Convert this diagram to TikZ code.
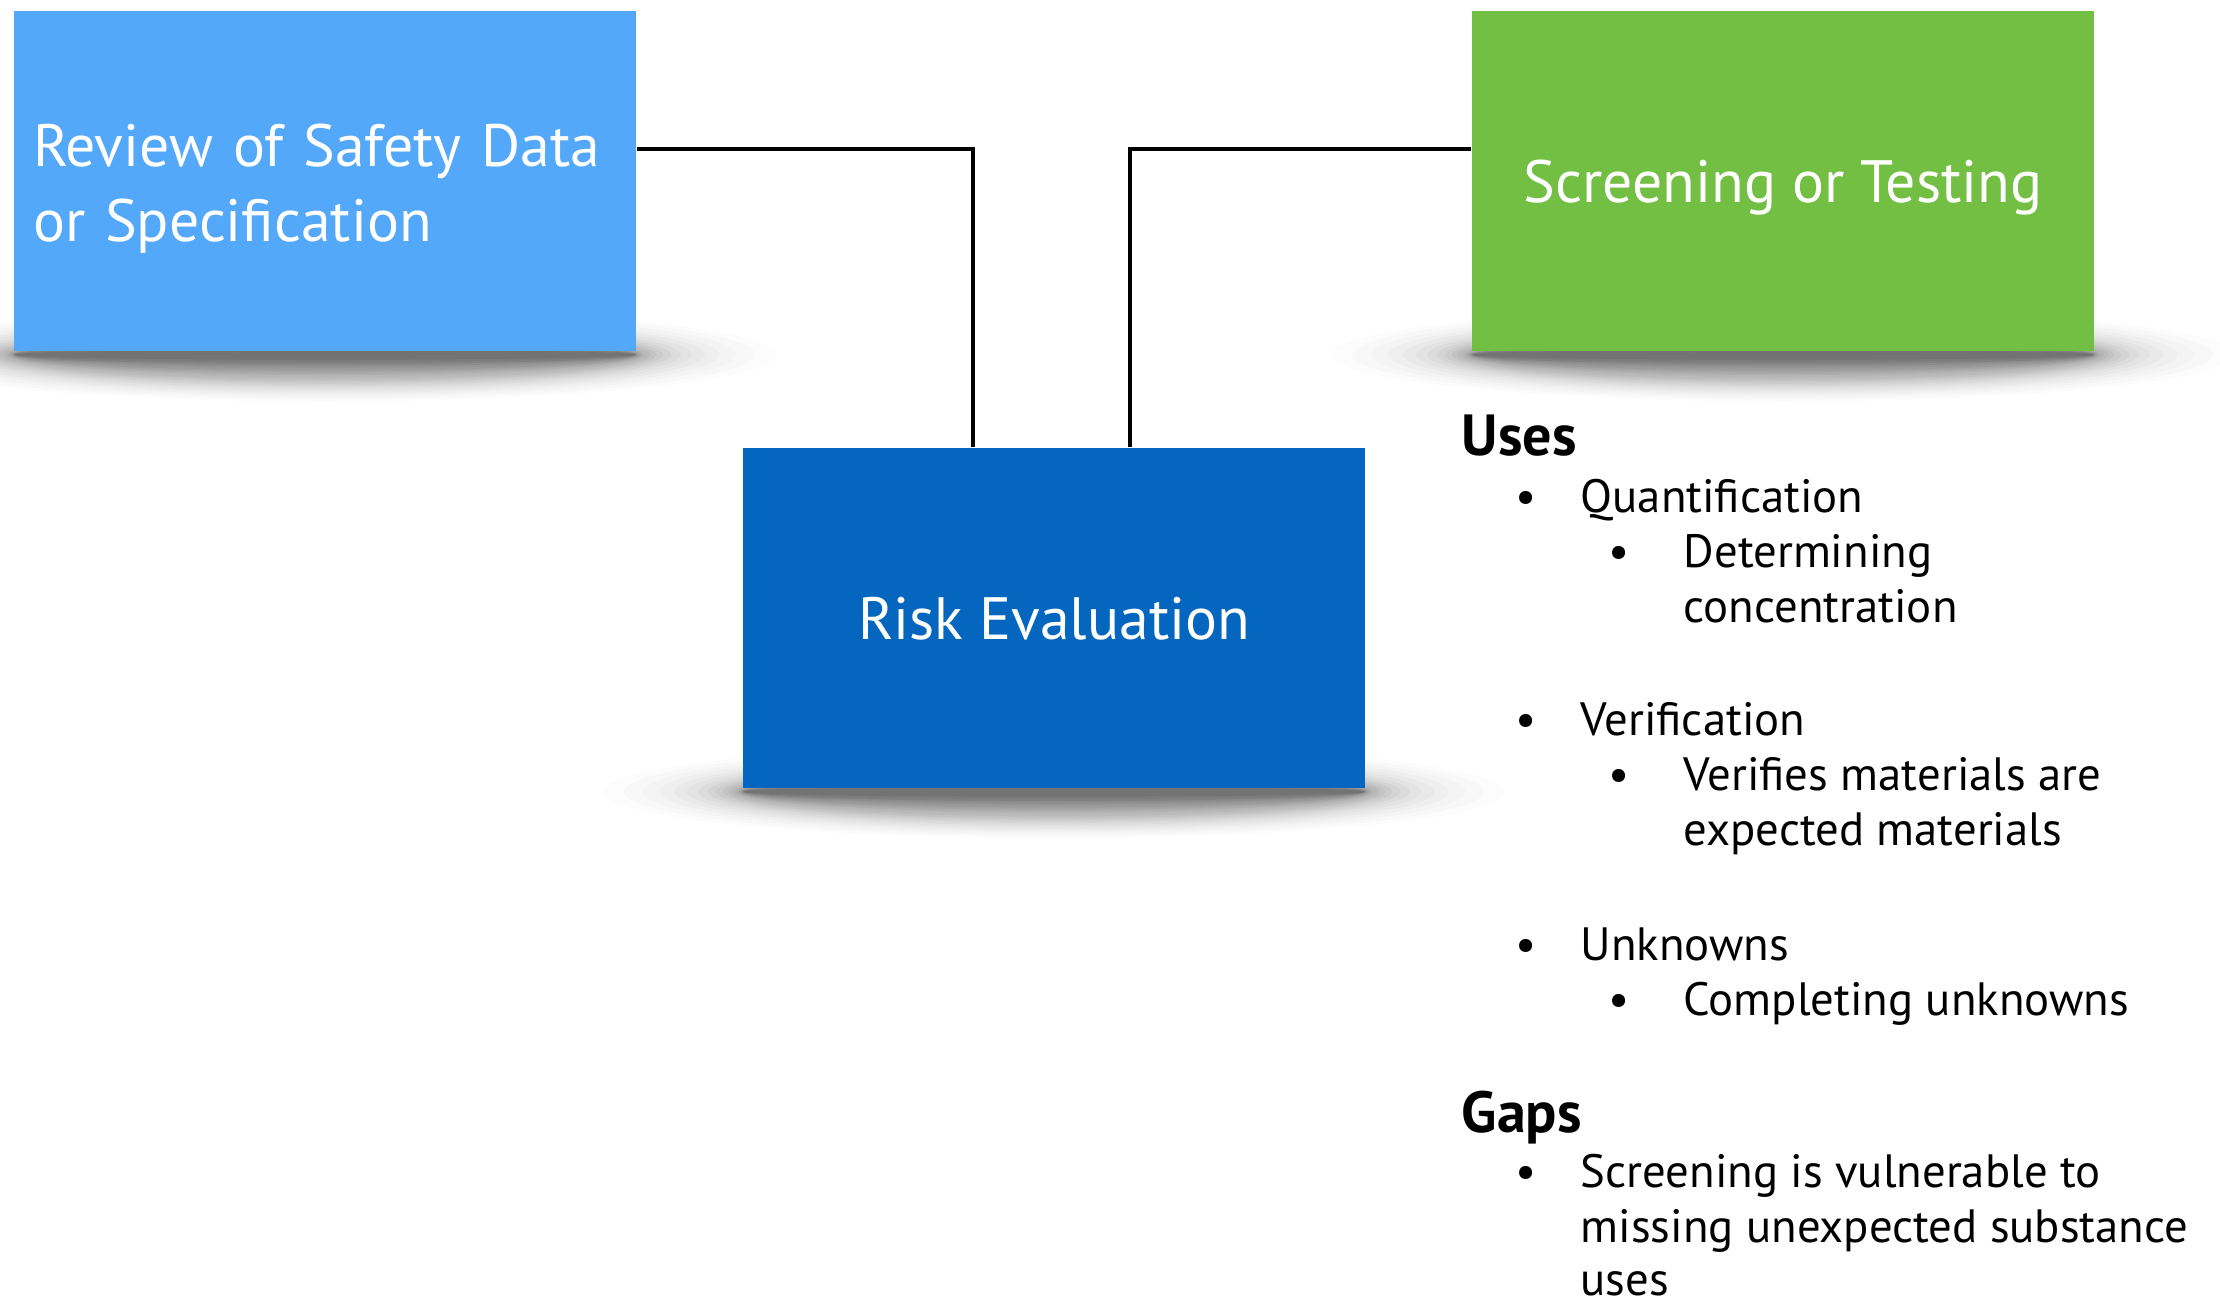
\documentclass[tikz,border=0pt]{standalone}
\usepackage{fontspec}
\setmainfont{PT Sans}
\usetikzlibrary{positioning,calc,backgrounds}

\definecolor{reviewblue}{RGB}{84,168,249}
\definecolor{screengreen}{RGB}{114,191,68}
\definecolor{riskblue}{RGB}{5,102,192}

\begin{document}
\begin{tikzpicture}[
    x=0.1mm, y=-0.1mm,
    block/.style={
        rectangle,
        inner sep=0pt,
        minimum width=62.2mm,
        minimum height=34mm,
        text=white,
        font=\fontsize{17}{21.5}\selectfont
    },
    reviewblock/.style={
        block,
        fill=reviewblue,
        align=left,
        text width=58.4mm
    },
    screenblock/.style={
        block,
        fill=screengreen,
        text height=5.2mm,
        text depth=1mm
    },
    riskblock/.style={
        block,
        fill=riskblue,
        text height=5.2mm,
        text depth=1mm
    },
    link/.style={draw, line width=1.3pt},
    listtext/.style={
        anchor=base west,
        inner sep=0pt,
        font=\fontsize{13.3}{16}\selectfont
    },
    heading/.style={listtext, font=\fontsize{16.5}{19}\selectfont\bfseries},
    entry/.style={
        listtext,
        execute at begin node={\llap{\makebox[6.5mm][l]{\textbullet}}}
    },
    subentry/.style={
        listtext,
        execute at begin node={\llap{\makebox[7.5mm][l]{\textbullet}}}
    }
]

\useasboundingbox (0,0) rectangle (2220,1303);

% Main blocks
\node[reviewblock] (review) at (325,181)
    {\rule{0pt}{5.8mm}Review of Safety Data\\or Specification};
\node[screenblock] (screen) at (1783,181) {Screening or Testing};
\node[riskblock] (risk) at (1054,618) {Risk Evaluation};

% Connections into the evaluation block
\draw[link] ([yshift=3.2mm]review.east) -| ([xshift=-8.1mm]risk.north);
\draw[link] ([yshift=3.2mm]screen.west) -| ([xshift=7.6mm]risk.north);

% Uses of screening
\node[heading] (uses) at (1461,455) {Uses};
\node[entry] (quant) at (1580,512) {Quantification};
\node[subentry] (determ) at (1683,567) {Determining};
\node[listtext] (conc) at (1683,622) {concentration};
\node[entry] (verif) at (1580,735) {Verification};
\node[subentry] (verifies) at (1683,790) {Verifies materials are};
\node[listtext] (expected) at (1683,845) {expected materials};
\node[entry] (unknowns) at (1580,960) {Unknowns};
\node[subentry] (completing) at (1683,1015) {Completing unknowns};

% Gaps
\node[heading] (gaps) at (1461,1132) {Gaps};
\node[entry] (vulnerable) at (1580,1187) {Screening is vulnerable to};
\node[listtext] (missing) at (1580,1242) {missing unexpected substance};
\node[listtext] (lastuses) at (1580,1295) {uses};

% Soft shadows under the blocks
\begin{scope}[on background layer]
    \fill[white] (0,0) rectangle (2220,1303);
    \foreach \n in {review,screen,risk}{
        \foreach \k in {0,...,19}{
            \fill[black, opacity=0.06-0.0025*\k]
                ($(\n.south)+(0,3)$) ellipse
                [x radius=31.1mm+\k*\k*\k*0.00204mm,
                 y radius=0.5mm+\k*0.22mm];
        }
    }
\end{scope}

\end{tikzpicture}
\end{document}
